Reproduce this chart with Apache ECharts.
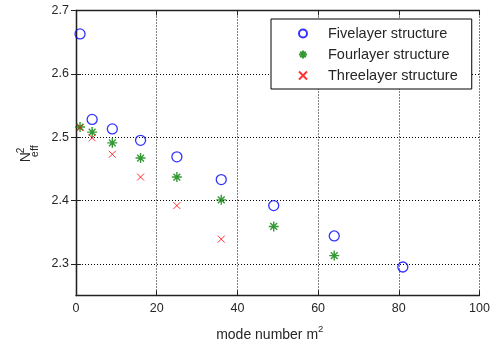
<!DOCTYPE html>
<html>
<head>
<meta charset="utf-8">
<script src="https://cdn.jsdelivr.net/npm/echarts@6/dist/echarts.min.js"></script>
<style>
  html, body { margin: 0; padding: 0; background: #fff; }
  #chart { width: 503px; height: 350px; }
</style>
</head>
<body>
<div id="chart"></div>
<script>
// Mode index squared (m^2) on the horizontal axis
const modeNumbers = [1, 4, 9, 16, 25, 36, 49, 64, 81];

// Effective index squared for each waveguide structure
const fiveLayer  = [2.663, 2.528, 2.513, 2.495, 2.469, 2.433, 2.392, 2.344, 2.295];
const fourLayer  = [2.516, 2.508, 2.491, 2.467, 2.437, 2.401, 2.359, 2.313];
const threeLayer = [2.515, 2.499, 2.473, 2.437, 2.392, 2.339];

const seriesNames = ['Fivelayer structure', 'Fourlayer structure', 'Threelayer structure'];

const xTicks = [0, 20, 40, 60, 80, 100];
const yTicks = [2.3, 2.4, 2.5, 2.6, 2.7];

const FONT = 'Liberation Sans, Arial, Helvetica, sans-serif';
const TXT = '#262626';

const pairs = (vals) => vals.map((v, i) => [modeNumbers[i], v]);

const chart = echarts.init(document.getElementById('chart'), null, { renderer: 'canvas' });

const asterisk = 'path://M5 0L5 10M0 5L10 5M1.6 1.6L8.4 8.4M8.4 1.6L1.6 8.4';
const cross = 'path://M0 0L10 10M10 0L0 10';

const gridLine = { show: true, lineStyle: { color: '#000', type: [1, 2], width: 1 } };
const boxLine = { show: true, lineStyle: { color: '#222', width: 1.3 } };

chart.setOption({
  animation: false,
  backgroundColor: '#fff',
  grid: { left: 76, right: 23.5, top: 10.5, bottom: 54.5, containLabel: false },
  legend: {
    orient: 'vertical',
    left: 271,
    top: 19,
    itemWidth: 40,
    itemHeight: 8,
    itemGap: 6,
    padding: [7, 14, 6, 27],
    backgroundColor: '#fff',
    borderColor: '#000',
    borderWidth: 1,
    textStyle: { fontFamily: FONT, fontSize: 14.5, color: TXT, lineHeight: 15 },
    data: seriesNames
  },
  xAxis: [
    {
      type: 'value', min: 0, max: 100, interval: 20, position: 'bottom',
      axisLine: boxLine,
      axisTick: { show: true, inside: true, length: 5, lineStyle: { color: '#222' } },
      axisLabel: { fontFamily: FONT, fontSize: 12.5, color: TXT, margin: 7 },
      splitLine: gridLine,
      name: '{a|mode number m}{s|2}',
      nameLocation: 'middle',
      nameGap: 29,
      nameTextStyle: {
        fontFamily: FONT, color: TXT, padding: [0, 16, 0, 0],
        rich: {
          a: { fontFamily: FONT, fontSize: 14, color: TXT, lineHeight: 18, verticalAlign: 'bottom' },
          s: { fontFamily: FONT, fontSize: 9.5, color: TXT, lineHeight: 10, verticalAlign: 'top' }
        }
      }
    },
    {
      type: 'value', min: 0, max: 100, interval: 20, position: 'top',
      axisLine: boxLine,
      axisTick: { show: true, inside: true, length: 5, lineStyle: { color: '#222' } },
      axisLabel: { show: false },
      splitLine: { show: false }
    }
  ],
  yAxis: [
    {
      type: 'value', min: 2.25, max: 2.7, position: 'left',
      axisLine: boxLine,
      axisTick: { show: true, inside: true, length: 5, lineStyle: { color: '#222' }, customValues: yTicks },
      axisLabel: { fontFamily: FONT, fontSize: 12.5, color: TXT, margin: 7, customValues: yTicks,
                   formatter: (v) => v.toFixed(1) },
      splitLine: gridLine
    },
    {
      type: 'value', min: 2.25, max: 2.7, position: 'right',
      axisLine: boxLine,
      axisTick: { show: true, inside: true, length: 5, lineStyle: { color: '#222' }, customValues: yTicks },
      axisLabel: { show: false, customValues: yTicks },
      splitLine: { show: false }
    }
  ],
  graphic: [
    {
      type: 'group', x: 25.7, y: 157.2, rotation: Math.PI / 2, silent: true,
      children: [
        { type: 'text', x: 0, y: 0,
          style: { text: 'N', fontFamily: FONT, fontSize: 14, fill: TXT, align: 'center', verticalAlign: 'middle' } },
        { type: 'text', x: 4, y: -4,
          style: { text: '2', fontFamily: FONT, fontSize: 10, fill: TXT, align: 'left', verticalAlign: 'middle' } },
        { type: 'text', x: 0, y: 9.5,
          style: { text: 'eff', fontFamily: FONT, fontSize: 11, fill: TXT, align: 'left', verticalAlign: 'middle' } }
      ]
    }
  ],
  series: [
    {
      name: seriesNames[0], type: 'scatter', data: pairs(fiveLayer),
      symbol: 'circle', symbolSize: 10,
      itemStyle: { color: 'rgba(0,0,0,0)', borderColor: '#0000ff', borderWidth: 1.3 },
      emphasis: { disabled: true }
    },
    {
      name: seriesNames[1], type: 'scatter', data: pairs(fourLayer),
      symbol: asterisk, symbolSize: 10, symbolKeepAspect: true,
      itemStyle: { color: 'rgba(0,0,0,0)', borderColor: '#008000', borderWidth: 1.4 },
      emphasis: { disabled: true }
    },
    {
      name: seriesNames[2], type: 'scatter', data: pairs(threeLayer),
      symbol: cross, symbolSize: 7, symbolKeepAspect: true,
      itemStyle: { color: 'rgba(0,0,0,0)', borderColor: '#ff0000', borderWidth: 1 },
      emphasis: { disabled: true }
    }
  ]
});
</script>
</body>
</html>
